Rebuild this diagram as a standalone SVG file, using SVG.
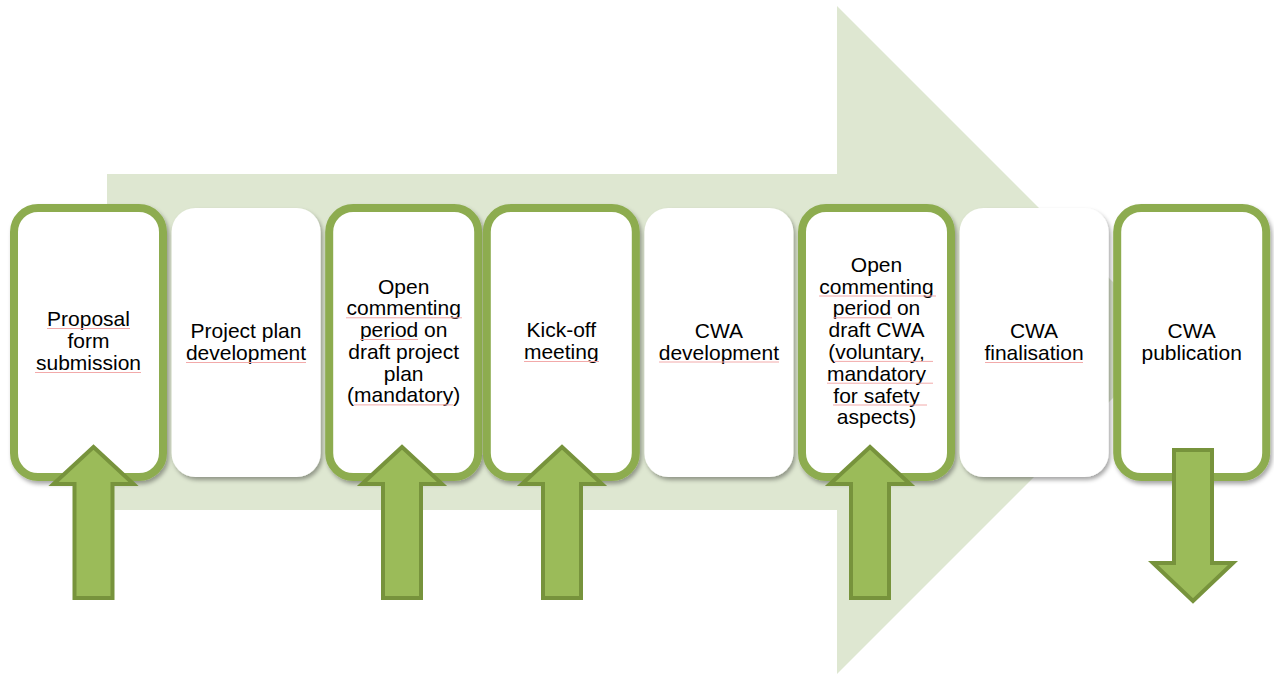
<svg xmlns="http://www.w3.org/2000/svg" width="1274" height="675" viewBox="0 0 1274 675">
<defs>
<filter id="sh" x="-10%" y="-10%" width="125%" height="125%">
<feDropShadow dx="2" dy="3" stdDeviation="2" flood-color="#000" flood-opacity="0.35"/>
</filter>
<style>
.box{fill:#fff;filter:url(#sh)}
.bord{fill:#fff;stroke:#8dac50;stroke-width:8;filter:url(#sh)}
.lbl{font-family:"Liberation Sans",Arial,sans-serif;font-size:21px;fill:#000;text-anchor:middle}
.ul{stroke:#f2aaaa;stroke-width:1}
.arr{fill:#9bbb59;stroke:#77933c;stroke-width:4;stroke-linejoin:miter}
</style>
</defs>
<rect width="1274" height="675" fill="#fff"/>
<polygon id="bigarrow" points="107,174 837,174 837,6 1171,340 837,674 837,510 107,510" fill="#dee7d1"/>

<g id="n1">
<rect class="bord" x="14" y="208" width="149" height="269" rx="24"/>
<text class="lbl" x="88.5"><tspan x="88.5" y="326">Proposal</tspan><tspan x="88.5" y="348">form</tspan><tspan x="88.5" y="370">submission</tspan></text>
<line class="ul" x1="47" y1="328.5" x2="130" y2="328.5"/>
<line class="ul" x1="35" y1="372.5" x2="141" y2="372.5"/>
</g>
<g id="n2">
<rect class="box" x="171.6" y="208" width="149" height="269" rx="24"/>
<text class="lbl"><tspan x="246" y="338">Project plan</tspan><tspan x="246" y="360">development</tspan></text>
<line class="ul" x1="186" y1="362.5" x2="306" y2="362.5"/>
</g>
<g id="n3">
<rect class="bord" x="329.2" y="208" width="149" height="269" rx="24"/>
<text class="lbl"><tspan x="403.7" y="293.5">Open</tspan><tspan x="403.7" y="315.3">commenting</tspan><tspan x="403.7" y="337">period on</tspan><tspan x="403.7" y="358.8">draft project</tspan><tspan x="403.7" y="380.6">plan</tspan><tspan x="403.7" y="402.4">(mandatory)</tspan></text>
<line class="ul" x1="346" y1="317.8" x2="462" y2="317.8"/>
<line class="ul" x1="360" y1="339.5" x2="418" y2="339.5"/>
<line class="ul" x1="354" y1="404.9" x2="453" y2="404.9"/>
</g>
<g id="n4">
<rect class="bord" x="486.8" y="208" width="149" height="269" rx="24"/>
<text class="lbl"><tspan x="561.3" y="337">Kick-off</tspan><tspan x="561.3" y="359">meeting</tspan></text>
<line class="ul" x1="524" y1="361.5" x2="599" y2="361.5"/>
</g>
<g id="n5">
<rect class="box" x="644.4" y="208" width="149" height="269" rx="24"/>
<text class="lbl"><tspan x="718.9" y="337.5">CWA</tspan><tspan x="718.9" y="359.5">development</tspan></text>
<line class="ul" x1="659" y1="362" x2="779" y2="362"/>
</g>
<g id="n6">
<rect class="bord" x="802" y="208" width="149" height="269" rx="24"/>
<text class="lbl"><tspan x="876.5" y="271.7">Open</tspan><tspan x="876.5" y="293.5">commenting</tspan><tspan x="876.5" y="315.3">period on</tspan><tspan x="876.5" y="337.1">draft CWA</tspan><tspan x="876.5" y="358.9">(voluntary,</tspan><tspan x="876.5" y="380.7">mandatory</tspan><tspan x="876.5" y="402.5">for safety</tspan><tspan x="876.5" y="424.3">aspects)</tspan></text>
<line class="ul" x1="819" y1="296" x2="936" y2="296"/>
<line class="ul" x1="833" y1="317.8" x2="892" y2="317.8"/>
<line class="ul" x1="834" y1="361.4" x2="933" y2="361.4"/>
<line class="ul" x1="827" y1="383.2" x2="933" y2="383.2"/>
<line class="ul" x1="833" y1="405" x2="927" y2="405"/>
</g>
<g id="n7">
<rect class="box" x="959.6" y="208" width="149" height="269" rx="24"/>
<text class="lbl"><tspan x="1034" y="338">CWA</tspan><tspan x="1034" y="360">finalisation</tspan></text>
<line class="ul" x1="985" y1="362.5" x2="1083" y2="362.5"/>
</g>
<g id="n8">
<rect class="bord" x="1117.2" y="208" width="149" height="269" rx="24"/>
<text class="lbl"><tspan x="1191.7" y="338">CWA</tspan><tspan x="1191.7" y="360">publication</tspan></text>
</g>

<g id="connectors">
<polygon class="arr" points="93.5,447 133.5,484 112.5,484 112.5,598 74.5,598 74.5,484 53.5,484"/>
<polygon class="arr" points="402,447 442,484 421,484 421,598 383,598 383,484 362,484"/>
<polygon class="arr" points="562,447 602,484 581,484 581,598 543,598 543,484 522,484"/>
<polygon class="arr" points="870,447 910,484 889,484 889,598 851,598 851,484 830,484"/>
<polygon class="arr" points="1174,450 1212,450 1212,563 1233,563 1193,601 1153,563 1174,563"/>
</g>
</svg>
